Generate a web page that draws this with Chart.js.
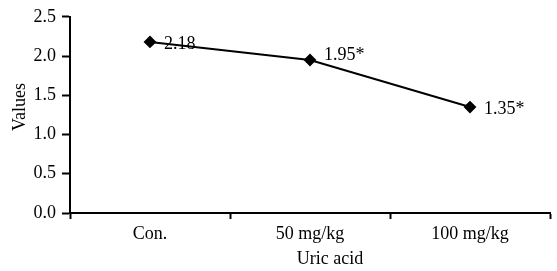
<!DOCTYPE html>
<html>
<head>
<meta charset="utf-8">
<script src="https://cdn.jsdelivr.net/npm/chart.js@4/dist/chart.umd.min.js"></script>
<style>
  html, body { margin: 0; padding: 0; background: #fff; }
  #wrap { width: 557px; height: 271px; }
</style>
</head>
<body>
<div id="wrap"><canvas id="chart"></canvas></div>
<script>
const categories = ['Con.', '50 mg/kg', '100 mg/kg'];
const values = [2.18, 1.95, 1.35];
const pointLabels = ['2.18', '1.95*', '1.35*'];
const yTicks = [0, 0.5, 1.0, 1.5, 2.0, 2.5];
const xTitle = 'Uric acid';
const yTitle = 'Values';

const FONT = "'Liberation Serif', 'Times New Roman', serif";

// value labels to the right of each point
const labelPlugin = {
  id: 'pointLabels',
  afterDatasetsDraw(chart) {
    const ctx = chart.ctx;
    const meta = chart.getDatasetMeta(0);
    ctx.save();
    ctx.font = '18px ' + FONT;
    ctx.fillStyle = '#000';
    ctx.textAlign = 'left';
    ctx.textBaseline = 'middle';
    meta.data.forEach((pt, i) => {
      const dy = i === 1 ? -5 : 2;
      ctx.fillText(pointLabels[i], pt.x + 14, pt.y + dy);
    });
    ctx.restore();
  }
};

// axis titles are a little off-center in the original, so draw them by hand
const titlePlugin = {
  id: 'axisTitles',
  afterDraw(chart) {
    const ctx = chart.ctx;
    const area = chart.chartArea;
    ctx.save();
    ctx.font = '18px ' + FONT;
    ctx.fillStyle = '#000';
    ctx.textAlign = 'center';
    ctx.textBaseline = 'middle';
    ctx.fillText(xTitle, (area.left + area.right) / 2 + 20, 259);
    ctx.translate(20, (area.top + area.bottom) / 2 - 8);
    ctx.rotate(-Math.PI / 2);
    ctx.fillText(yTitle, 0, 0);
    ctx.restore();
  }
};

new Chart(document.getElementById('chart'), {
  type: 'line',
  data: {
    labels: categories,
    datasets: [{
      data: values,
      borderColor: '#000',
      borderWidth: 2,
      pointStyle: 'rectRot',
      pointRadius: 5,
      pointBackgroundColor: '#000',
      pointBorderColor: '#000',
      tension: 0
    }]
  },
  options: {
    responsive: true,
    maintainAspectRatio: false,
    animation: false,
    layout: { padding: { top: 15, right: 6, left: 0, bottom: 0 } },
    plugins: {
      legend: { display: false },
      tooltip: { enabled: false }
    },
    scales: {
      x: {
        offset: true,
        grid: {
          offset: true,
          drawOnChartArea: false,
          drawTicks: true,
          tickLength: 6,
          tickColor: '#000',
          tickWidth: 2
        },
        border: { color: '#000', width: 2 },
        ticks: {
          color: '#000',
          font: { family: FONT, size: 18 },
          padding: 4,
          maxRotation: 0
        },
        afterFit(scale) { scale.height = 58; }
      },
      y: {
        min: 0,
        max: 2.5,
        afterBuildTicks(scale) { scale.ticks = yTicks.map(v => ({ value: v })); },
        grid: {
          drawOnChartArea: false,
          drawTicks: true,
          tickLength: 8,
          tickColor: '#000',
          tickWidth: 2
        },
        border: { color: '#000', width: 2 },
        ticks: {
          color: '#000',
          font: { family: FONT, size: 18 },
          padding: 6,
          callback: v => Number(v).toFixed(1)
        },
        afterFit(scale) { scale.width = 70; }
      }
    }
  },
  plugins: [labelPlugin, titlePlugin]
});
</script>
</body>
</html>
